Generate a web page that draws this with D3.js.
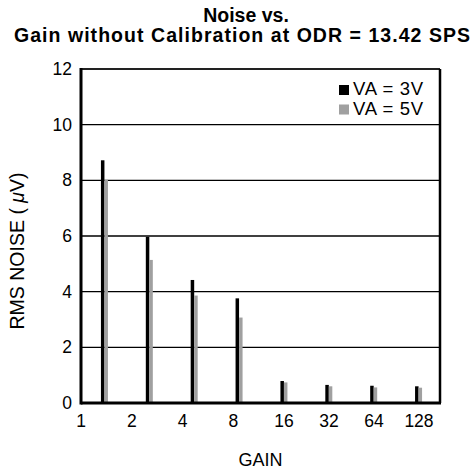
<!DOCTYPE html>
<html>
<head>
<meta charset="utf-8">
<script src="https://cdn.jsdelivr.net/npm/d3@7"></script>
<style>
  body { margin: 0; background: #fff; }
  text { font-family: "Liberation Sans", Arial, sans-serif; fill: #000; }
</style>
</head>
<body>
<div id="chart"></div>
<script>
// gain settings (x categories / tick labels)
var gains = ["1", "2", "4", "8", "16", "32", "64", "128"];
// rms noise in uV
var va3 = [8.72, 5.97, 4.42, 3.76, 0.79, 0.65, 0.62, 0.60];
var va5 = [8.02, 5.14, 3.86, 3.07, 0.74, 0.60, 0.56, 0.55];
var yTicks = [0, 2, 4, 6, 8, 10, 12];
var seriesNames = ["VA = 3V", "VA = 5V"];
var seriesColors = ["#000000", "#a0a0a0"];

var width = 474, height = 473;
var margin = {top: 69, right: 34, bottom: 70, left: 81};
var w = width - margin.left - margin.right;
var h = height - margin.top - margin.bottom;

var svg = d3.select("#chart").append("svg")
    .attr("width", width)
    .attr("height", height);

// title (second line is stretched, the original font runs wider)
svg.append("text")
    .attr("x", 246).attr("y", 22)
    .attr("text-anchor", "middle")
    .style("font-weight", "bold").style("font-size", "19.5px")
    .text("Noise vs.");
svg.append("text")
    .attr("x", 14).attr("y", 42)
    .attr("textLength", 456)
    .attr("lengthAdjust", "spacing")
    .style("font-weight", "bold").style("font-size", "19.5px")
    .text("Gain without Calibration at ODR = 13.42 SPS");

var g = svg.append("g")
    .attr("transform", "translate(" + margin.left + "," + margin.top + ")");

var y = d3.scaleLinear().domain([0, 12]).range([h, 0]);
var x = d3.scaleBand().domain(gains).range([0, w]);
// tick labels don't sit under the bars, they are spread a bit differently
var xLab = d3.scaleLinear().domain([0, 4, 7]).range([0, 203, 338]);

// grid lines
g.selectAll(".grid")
    .data(yTicks.filter(function(d) { return d > 0 && d < 12; }))
    .enter().append("line")
    .attr("x1", 0).attr("x2", w)
    .attr("y1", function(d) { return y(d); })
    .attr("y2", function(d) { return y(d); })
    .attr("stroke", "#000").attr("stroke-width", 1.3);

// bars
var bw = 3.5;
g.selectAll(".b3").data(va3).enter().append("rect")
    .attr("x", function(d, i) { return x(gains[i]) + x.bandwidth() / 2 - 2.5; })
    .attr("y", function(d) { return y(d); })
    .attr("width", bw)
    .attr("height", function(d) { return h - y(d); })
    .attr("fill", seriesColors[0]);
g.selectAll(".b5").data(va5).enter().append("rect")
    .attr("x", function(d, i) { return x(gains[i]) + x.bandwidth() / 2 + 1; })
    .attr("y", function(d) { return y(d); })
    .attr("width", bw)
    .attr("height", function(d) { return h - y(d); })
    .attr("fill", seriesColors[1]);

// frame
g.append("line").attr("x1", 0).attr("x2", w).attr("y1", 0).attr("y2", 0)
    .attr("stroke", "#222").attr("stroke-width", 2);
g.append("line").attr("x1", w).attr("x2", w).attr("y1", 0).attr("y2", h)
    .attr("stroke", "#000").attr("stroke-width", 2.5);
g.append("line").attr("x1", 0).attr("x2", 0).attr("y1", -1).attr("y2", h + 1.5)
    .attr("stroke", "#000").attr("stroke-width", 3);
g.append("line").attr("x1", 0).attr("x2", w + 1).attr("y1", h).attr("y2", h)
    .attr("stroke", "#000").attr("stroke-width", 3);

// y tick labels
g.selectAll(".ytick").data(yTicks).enter().append("text")
    .attr("x", -9)
    .attr("y", function(d) { return y(d) + 6; })
    .attr("text-anchor", "end")
    .style("font-size", "17.5px")
    .text(function(d) { return d; });

// x tick labels
g.selectAll(".xtick").data(gains).enter().append("text")
    .attr("x", function(d, i) { return xLab(i); })
    .attr("y", h + 24)
    .attr("text-anchor", "middle")
    .style("font-size", "17.5px")
    .text(function(d) { return d; });

// axis titles
svg.append("text")
    .attr("x", margin.left + w / 2).attr("y", 466)
    .attr("text-anchor", "middle")
    .style("font-size", "18px")
    .text("GAIN");

var yl = svg.append("text")
    .attr("transform", "translate(24,251) rotate(-90)")
    .attr("text-anchor", "middle")
    .style("font-size", "19.5px");
yl.append("tspan").text("RMS NOISE ( ");
yl.append("tspan").style("font-style", "italic").text("\u03bc");
yl.append("tspan").text("V)");

// legend
var leg = g.selectAll(".leg").data(seriesNames).enter().append("g")
    .attr("transform", function(d, i) { return "translate(258," + (16 + i * 19.5) + ")"; });
leg.append("rect")
    .attr("width", 10).attr("height", 10)
    .attr("fill", function(d, i) { return seriesColors[i]; });
leg.append("text")
    .attr("x", 14).attr("y", 10)
    .attr("textLength", 70)
    .style("font-size", "18.5px")
    .text(function(d) { return d; });
</script>
</body>
</html>
